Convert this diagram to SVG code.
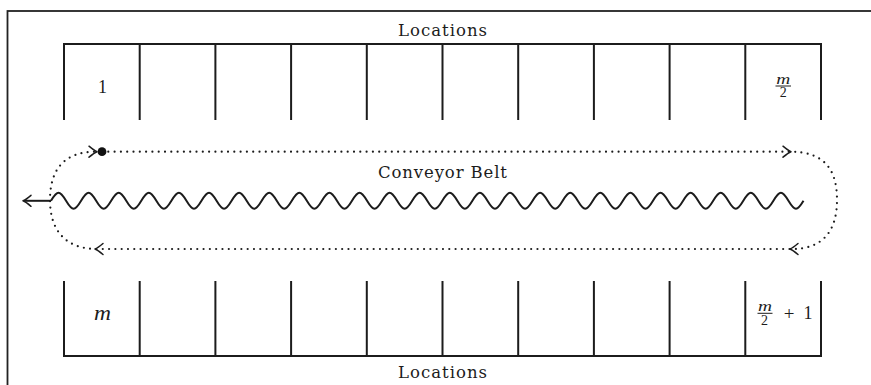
<svg xmlns="http://www.w3.org/2000/svg" xmlns:xlink="http://www.w3.org/1999/xlink" width="871" height="385" viewBox="0 0 871 385">
<style>
.ln{fill:none;stroke:#1c1c1c;stroke-width:2;stroke-linejoin:miter;stroke-linecap:butt}
.frame{fill:none;stroke:#222;stroke-width:1.8}
.dot{fill:none;stroke:#1c1c1c;stroke-width:2.2;stroke-linecap:round;stroke-dasharray:0 6.3}
.hd{fill:none;stroke:#1c1c1c;stroke-width:1.5;stroke-linecap:round;stroke-linejoin:round}
.wave{fill:none;stroke:#1c1c1c;stroke-width:2}
.t{font-family:"DejaVu Serif","Liberation Serif",serif;fill:#1c1c1c;text-anchor:middle}
.m{font-family:"Liberation Serif","Times New Roman",serif;fill:#1c1c1c;text-anchor:middle}
.mi{font-style:italic}
.bar{stroke:#1c1c1c;stroke-width:1}
</style>
<defs>
<path id="hd" d="M-8,-5.5 C-5,-3 -2,-0.8 0,0 C-2,0.8 -5,3 -8,5.5"/>
</defs>
<rect width="871" height="385" fill="#fff"/>
<g id="frame"><rect class="frame" x="7.5" y="11" width="900" height="400"/></g>

<g id="top-locations">
<path class="ln" d="M64,120 V44 H821 V120 M139.7,44 V120 M215.4,44 V120 M291.1,44 V120 M366.8,44 V120 M442.5,44 V120 M518.2,44 V120 M593.9,44 V120 M669.6,44 V120 M745.3,44 V120"/>
<text class="t" x="442.5" y="35.7" font-size="16.5" textLength="89" lengthAdjust="spacing">Locations</text>
<text class="m" x="102.5" y="93.3" font-size="18">1</text>
<g id="frac-top">
<text class="m mi" x="783.3" y="83.5" font-size="15" textLength="14" lengthAdjust="spacingAndGlyphs">m</text>
<line class="bar" x1="775.5" y1="86" x2="791" y2="86"/>
<text class="m" x="783.3" y="97.3" font-size="14">2</text>
</g>
</g>

<g id="bottom-locations">
<path class="ln" d="M64,281 V356 H821 V281 M139.7,281 V356 M215.4,281 V356 M291.1,281 V356 M366.8,281 V356 M442.5,281 V356 M518.2,281 V356 M593.9,281 V356 M669.6,281 V356 M745.3,281 V356"/>
<text class="t" x="442.5" y="377.7" font-size="16.5" textLength="89" lengthAdjust="spacing">Locations</text>
<text class="m mi" x="102.5" y="320" font-size="20" textLength="17" lengthAdjust="spacingAndGlyphs">m</text>
<g id="frac-bottom">
<text class="m mi" x="765" y="310.7" font-size="15" textLength="14" lengthAdjust="spacingAndGlyphs">m</text>
<line class="bar" x1="757.5" y1="313.3" x2="772.5" y2="313.3"/>
<text class="m" x="764.5" y="325" font-size="14">2</text>
<text class="m" x="789" y="319.5" font-size="19">+</text>
<text class="m" x="808" y="319.3" font-size="18">1</text>
</g>
</g>

<g id="conveyor-belt">
<text class="t" x="442.5" y="178.3" font-size="16.5" textLength="129" lengthAdjust="spacing">Conveyor Belt</text>
</g>

<g id="connectors">
<path class="dot" d="M102,151.7 H790 C825,151.7 837,170 837,200 C837,232 822,249 792,249 H97 C65,249 50,230 50,200 C50,172 62,151.7 96,151.7"/>
<use xlink:href="#hd" class="hd" transform="translate(97,151.7)"/>
<use xlink:href="#hd" class="hd" transform="translate(791,151.7)"/>
<use xlink:href="#hd" class="hd" transform="translate(790,249) rotate(180)"/>
<use xlink:href="#hd" class="hd" transform="translate(95,249) rotate(180)"/>
<circle cx="102" cy="151.7" r="4.4" fill="#111"/>
<path class="wave" d="M51,200.8
c2.454,-4.098 4.88,-8 7.525,-8 s5.071,3.902 7.525,8 s4.88,8 7.525,8 s5.071,-3.902 7.525,-8
s4.88,-8 7.525,-8 s5.071,3.902 7.525,8 s4.88,8 7.525,8 s5.071,-3.902 7.525,-8
s4.88,-8 7.525,-8 s5.071,3.902 7.525,8 s4.88,8 7.525,8 s5.071,-3.902 7.525,-8
s4.88,-8 7.525,-8 s5.071,3.902 7.525,8 s4.88,8 7.525,8 s5.071,-3.902 7.525,-8
s4.88,-8 7.525,-8 s5.071,3.902 7.525,8 s4.88,8 7.525,8 s5.071,-3.902 7.525,-8
s4.88,-8 7.525,-8 s5.071,3.902 7.525,8 s4.88,8 7.525,8 s5.071,-3.902 7.525,-8
s4.88,-8 7.525,-8 s5.071,3.902 7.525,8 s4.88,8 7.525,8 s5.071,-3.902 7.525,-8
s4.88,-8 7.525,-8 s5.071,3.902 7.525,8 s4.88,8 7.525,8 s5.071,-3.902 7.525,-8
s4.88,-8 7.525,-8 s5.071,3.902 7.525,8 s4.88,8 7.525,8 s5.071,-3.902 7.525,-8
s4.88,-8 7.525,-8 s5.071,3.902 7.525,8 s4.88,8 7.525,8 s5.071,-3.902 7.525,-8
s4.88,-8 7.525,-8 s5.071,3.902 7.525,8 s4.88,8 7.525,8 s5.071,-3.902 7.525,-8
s4.88,-8 7.525,-8 s5.071,3.902 7.525,8 s4.88,8 7.525,8 s5.071,-3.902 7.525,-8
s4.88,-8 7.525,-8 s5.071,3.902 7.525,8 s4.88,8 7.525,8 s5.071,-3.902 7.525,-8
s4.88,-8 7.525,-8 s5.071,3.902 7.525,8 s4.88,8 7.525,8 s5.071,-3.902 7.525,-8
s4.88,-8 7.525,-8 s5.071,3.902 7.525,8 s4.88,8 7.525,8 s5.071,-3.902 7.525,-8
s4.88,-8 7.525,-8 s5.071,3.902 7.525,8 s4.88,8 7.525,8 s5.071,-3.902 7.525,-8
s4.88,-8 7.525,-8 s5.071,3.902 7.525,8 s4.88,8 7.525,8 s5.071,-3.902 7.525,-8
s4.88,-8 7.525,-8 s5.071,3.902 7.525,8 s4.88,8 7.525,8 s5.071,-3.902 7.525,-8
s4.88,-8 7.525,-8 s5.071,3.902 7.525,8 s4.88,8 7.525,8 s5.071,-3.902 7.525,-8
s4.88,-8 7.525,-8 s5.071,3.902 7.525,8 s4.88,8 7.525,8 s5.071,-3.902 7.525,-8
s4.88,-8 7.525,-8 s5.071,3.902 7.525,8 s4.88,8 7.525,8 s5.071,-3.902 7.525,-8
s4.88,-8 7.525,-8 s5.071,3.902 7.525,8 s4.88,8 7.525,8 s5.071,-3.902 7.525,-8
s4.88,-8 7.525,-8 s5.071,3.902 7.525,8 s4.88,8 7.525,8 s5.071,-3.902 7.525,-8
s4.88,-8 7.525,-8 s5.071,3.902 7.525,8 s4.88,8 7.525,8 s5.071,-3.902 7.525,-8
s4.88,-8 7.525,-8 s5.071,3.902 7.525,8 s4.88,8 7.525,8 s5.071,-3.902 7.525,-8"/>
<path class="ln" d="M51,200.8 H24"/>
<use xlink:href="#hd" class="hd" transform="translate(23,200.8) rotate(180)"/>
</g>
</svg>
